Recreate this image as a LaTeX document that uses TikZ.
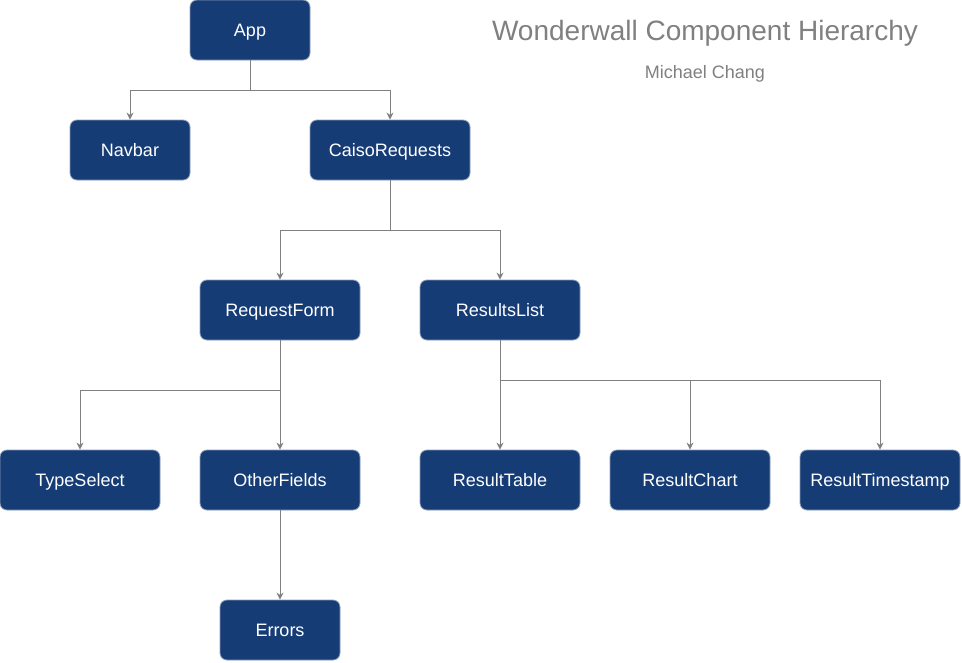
\documentclass[tikz,border=0pt]{standalone}
\usepackage{fontspec}
\setmainfont{Liberation Sans}
\usetikzlibrary{arrows.meta}
\definecolor{compblue}{HTML}{163C76}
\definecolor{compedge}{HTML}{8A9BB5}
\definecolor{linkgray}{HTML}{808080}
\begin{document}
\begin{tikzpicture}
            [x=1pt, y=-1pt, font=\fontsize{18}{21}\selectfont,
            comp/.style={rectangle, rounded corners=7pt, fill=compblue, draw=compedge,
            line width=0.8pt, text=white, minimum width=160pt, minimum height=60pt,
            inner sep=0pt, text height=13pt, text depth=0pt},
            smallcomp/.style={comp, minimum width=120pt},
            link/.style={draw=linkgray, line width=1pt, -{Stealth[length=7pt, width=7pt]}}]
            \useasboundingbox (0,0) rectangle (962,662);
            % title
            \node [text=linkgray, anchor=base, font=\fontsize{28}{32}\selectfont] (title) at (705,40) {Wonderwall Component Hierarchy};
            \node [text=linkgray, anchor=base] (author) at (705,78) {Michael Chang};
            % components
            \node [smallcomp] (app) at (250,30) {App};
            \node [smallcomp] (navbar) at (130,150) {Navbar};
            \node [comp] (caiso) at (390,150) {CaisoRequests};
            \node [comp] (reqform) at (280,310) {RequestForm};
            \node [comp] (results) at (500,310) {ResultsList};
            \node [comp] (typesel) at (80,480) {TypeSelect};
            \node [comp] (otherf) at (280,480) {OtherFields};
            \node [comp] (rtable) at (500,480) {ResultTable};
            \node [comp] (rchart) at (690,480) {ResultChart};
            \node [comp] (rstamp) at (880,480) {ResultTimestamp};
            \node [smallcomp] (errors) at (280,630) {Errors};
            % connectors
            \draw [link] (app.south) -- ++(0,30) -| (navbar.north);
            \draw [link] (app.south) -- ++(0,30) -| (caiso.north);
            \draw [link] (caiso.south) -- ++(0,50) -| (reqform.north);
            \draw [link] (caiso.south) -- ++(0,50) -| (results.north);
            \draw [link] (reqform.south) -- ++(0,50) -| (typesel.north);
            \draw [link] (reqform.south) -- (otherf.north);
            \draw [link] (results.south) -- (rtable.north);
            \draw [link] (results.south) -- ++(0,40) -| (rchart.north);
            \draw [link] (results.south) -- ++(0,40) -| (rstamp.north);
            \draw [link] (otherf.south) -- (errors.north);
\end{tikzpicture}
\end{document}
